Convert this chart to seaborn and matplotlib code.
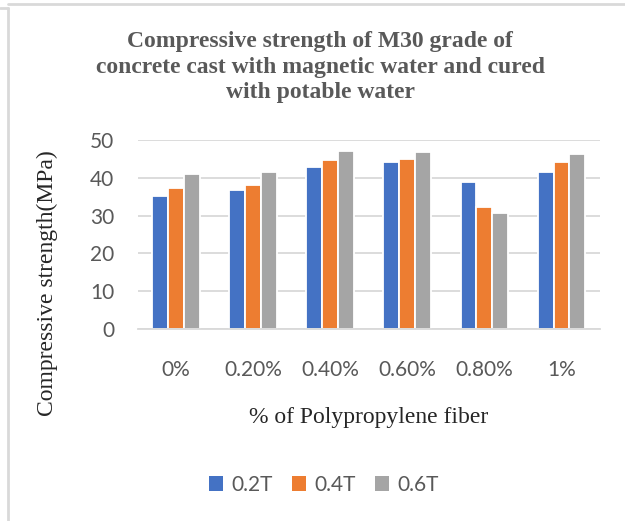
import matplotlib
matplotlib.use("Agg")
import matplotlib.pyplot as plt
import seaborn as sns
import pandas as pd
from matplotlib.lines import Line2D
from matplotlib.patches import Patch

categories = ["0%", "0.20%", "0.40%", "0.60%", "0.80%", "1%"]
series_names = ["0.2T", "0.4T", "0.6T"]
s_02T = [35.1, 36.8, 42.8, 44.1, 39.0, 41.6]
s_04T = [37.2, 38.1, 44.6, 45.1, 32.2, 44.3]
s_06T = [41.1, 41.6, 47.1, 46.8, 30.8, 46.3]
yticks = [0, 10, 20, 30, 40, 50]
colors = ["#4472C4", "#ED7D31", "#A5A5A5"]

rows = []
for name, vals in zip(series_names, [s_02T, s_04T, s_06T]):
    for c, v in zip(categories, vals):
        rows.append({"cat": c, "series": name, "value": v})
df = pd.DataFrame(rows)

sns.set_theme(style="white")
plt.rcParams["font.family"] = ["Lato", "DejaVu Sans"]

fig = plt.figure(figsize=(6.25, 5.21), dpi=100)
ax = fig.add_axes([137.7/625, 1-329/521, (600-137.7)/625, (329-140)/521])

sns.barplot(data=df, x="cat", y="value", hue="series", order=categories,
            hue_order=series_names, palette=colors, width=0.62,
            edgecolor="white", linewidth=1.3, saturation=1, ax=ax, legend=False)

ax.set_ylim(0, 50)
ax.set_yticks(yticks)
ax.set_xlim(-0.5, len(categories) - 0.5)
ax.yaxis.grid(True, color="#D9D9D9", linewidth=1.3)
ax.set_axisbelow(True)
for s in ["top", "right", "left"]:
    ax.spines[s].set_visible(False)
ax.spines["bottom"].set_color("#D9D9D9")
ax.spines["bottom"].set_linewidth(1.3)
ax.tick_params(axis="both", length=0, labelsize=15, colors="#595959")
ax.tick_params(axis="x", pad=22)
ax.tick_params(axis="y", pad=17)
ax.set_xlabel("")
ax.set_ylabel("")

serif = ["Liberation Serif", "DejaVu Serif"]
fig.text(320/625, 1-67/521,
         "Compressive strength of M30 grade of\nconcrete cast with magnetic water and cured\nwith potable water",
         ha="center", va="center", fontsize=17, fontweight="bold", color="#595959",
         family=serif, linespacing=1.3)
fig.text(369/625, 1-418/521, "% of Polypropylene fiber", ha="center", va="center",
         fontsize=17, color="#262626", family=serif)
fig.text(47/625, 1-283/521, "Compressive strength(MPa)", ha="center", va="center",
         rotation=90, fontsize=17, color="#262626", family=serif)

handles = [Patch(facecolor=c, edgecolor="none") for c in colors]
fig.legend(handles, series_names, loc="center", bbox_to_anchor=(324/625, 1-485/521),
           ncol=3, frameon=False, fontsize=15, handlelength=0.7, handleheight=0.7,
           handletextpad=0.4, columnspacing=0.9, labelcolor="#595959")

# chart border
fig.add_artist(Line2D([8/625, 8/625], [0, 1-8/521], color="#D9D9D9", linewidth=2,
                      transform=fig.transFigure))
fig.add_artist(Line2D([8/625, 1], [1-4/521, 1-4/521], color="#D9D9D9", linewidth=2,
                      transform=fig.transFigure))
fig.add_artist(Line2D([0, 8/625], [1-8/521, 1-8/521], color="#D9D9D9", linewidth=2,
                      transform=fig.transFigure))

fig.savefig("out.png", dpi=100, facecolor="white")
